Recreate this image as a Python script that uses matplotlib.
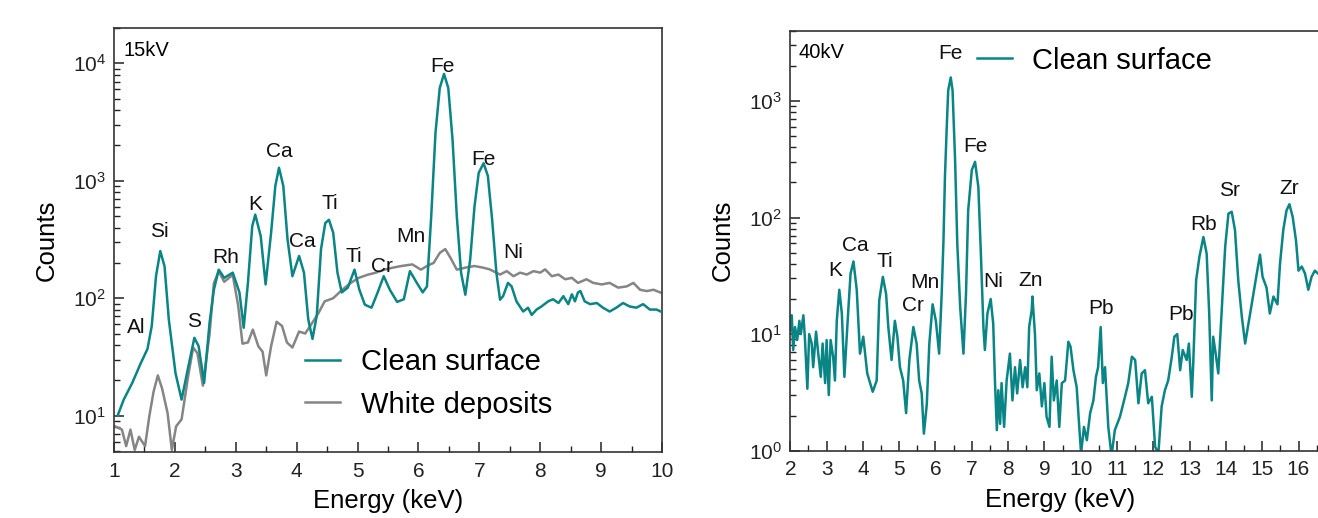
import matplotlib
matplotlib.use("Agg")
import matplotlib.pyplot as plt
from matplotlib.ticker import LogLocator, MultipleLocator, NullFormatter

plt.rcParams['font.family'] = ['Liberation Sans', 'DejaVu Sans']
plt.rcParams['mathtext.fontset'] = 'custom'
plt.rcParams['mathtext.rm'] = 'Liberation Sans'

TEAL = '#0a8585'
GRAY = '#858585'

# ---------------- 15 kV data ----------------
clean15_e = [1.06, 1.16, 1.30, 1.44, 1.55, 1.62, 1.69, 1.76, 1.83, 1.90, 2.01, 2.11, 2.22, 2.32,
             2.39, 2.48, 2.57, 2.64, 2.72, 2.81, 2.95, 3.06, 3.13, 3.20, 3.27, 3.32, 3.41, 3.49,
             3.58, 3.65, 3.71, 3.78, 3.85, 3.93, 4.04, 4.12, 4.19, 4.26, 4.33, 4.40, 4.47, 4.53,
             4.60, 4.67, 4.74, 4.84, 4.95, 5.03, 5.12, 5.23, 5.33, 5.43, 5.53, 5.65, 5.76, 5.86,
             5.97, 6.07, 6.14, 6.21, 6.28, 6.35, 6.42, 6.49, 6.56, 6.63, 6.70, 6.77, 6.85, 6.92,
             6.99, 7.07, 7.14, 7.21, 7.28, 7.34, 7.39, 7.47, 7.53, 7.61, 7.72, 7.80, 7.86, 7.94,
             8.02, 8.13, 8.21, 8.30, 8.38, 8.46, 8.52, 8.57, 8.62, 8.66, 8.73, 8.82, 8.93, 9.03,
             9.14, 9.25, 9.36, 9.47, 9.58, 9.69, 9.80, 9.91, 9.98]
clean15_c = [10, 13.7, 19, 28, 37, 58, 154, 252, 187, 66, 23, 13.7, 26, 46,
             39, 19, 62, 118, 175, 149, 165, 112, 56, 136, 410, 515, 337, 131,
             361, 907, 1290, 907, 317, 154, 229, 165, 66, 45, 71, 262, 437, 465,
             361, 165, 112, 123, 175, 118, 88, 83, 112, 154, 118, 93, 98, 170,
             136, 112, 126, 500, 2570, 6170, 8130, 6170, 2240, 500, 165, 107, 214, 600,
             1170, 1410, 1100, 468, 165, 97, 104, 135, 126, 94, 77, 83, 72, 80,
             85, 94, 98, 91, 104, 89, 108, 94, 112, 115, 94, 89, 91, 83,
             77, 83, 91, 85, 83, 89, 80, 80, 77]

white15_e = [1.02, 1.13, 1.20, 1.27, 1.34, 1.41, 1.51, 1.58, 1.65, 1.72, 1.79, 1.88, 1.95, 2.02,
             2.11, 2.22, 2.30, 2.37, 2.46, 2.57, 2.64, 2.72, 2.81, 2.95, 3.04, 3.11, 3.20, 3.28,
             3.37, 3.44, 3.50, 3.58, 3.67, 3.76, 3.84, 3.93, 4.04, 4.14, 4.25, 4.36, 4.46, 4.60,
             4.74, 4.88, 5.02, 5.16, 5.30, 5.44, 5.58, 5.72, 5.90, 6.04, 6.14, 6.25, 6.35, 6.44,
             6.53, 6.63, 6.77, 6.92, 7.06, 7.17, 7.34, 7.45, 7.56, 7.67, 7.78, 7.89, 8.00, 8.08,
             8.19, 8.30, 8.41, 8.52, 8.62, 8.76, 8.87, 9.01, 9.14, 9.28, 9.42, 9.53, 9.64, 9.75,
             9.86, 9.97]
white15_c = [8.1, 7.6, 5.5, 7.6, 5.1, 6.6, 5.5, 9.9, 16, 22, 17, 10.5, 5.1, 8.1,
             9.3, 22, 38, 34, 18, 50, 134, 170, 138, 158, 86, 41, 42, 54,
             39, 35, 22, 39, 63, 58, 42, 38, 52, 50, 61, 75, 94, 100,
             117, 134, 149, 158, 165, 175, 182, 188, 194, 175, 188, 200, 243, 262,
             219, 175, 182, 188, 182, 176, 159, 170, 154, 165, 159, 170, 165, 176,
             154, 159, 145, 149, 135, 145, 135, 131, 135, 123, 126, 135, 118, 115,
             118, 112]

# ---------------- 40 kV data ----------------
clean40_e = [2.00, 2.04, 2.08, 2.13, 2.19, 2.25, 2.29, 2.36, 2.40, 2.47, 2.52, 2.59, 2.63, 2.71,
             2.77, 2.84, 2.89, 2.96, 3.00, 3.06, 3.11, 3.18, 3.23, 3.28,
             3.35, 3.42, 3.49, 3.58, 3.66, 3.74, 3.83, 3.92, 4.01, 4.12, 4.27, 4.38,
             4.45, 4.55, 4.64, 4.70, 4.79, 4.88, 4.95, 5.02, 5.11, 5.19, 5.28, 5.39, 5.48, 5.55,
             5.62, 5.68, 5.76, 5.83, 5.92, 6.01, 6.10, 6.17, 6.22, 6.26, 6.31, 6.35, 6.42, 6.47,
             6.54, 6.60, 6.68, 6.77, 6.84, 6.90, 7.00, 7.09, 7.18, 7.25, 7.32, 7.36, 7.43, 7.52,
             7.59, 7.64, 7.69, 7.73, 7.78, 7.82, 7.89, 7.96, 8.05, 8.12, 8.19, 8.25, 8.33, 8.40,
             8.47, 8.53, 8.58, 8.65, 8.67, 8.74, 8.79, 8.86, 8.93, 9.00, 9.06, 9.14, 9.20, 9.26,
             9.34, 9.41, 9.48, 9.57, 9.66, 9.72, 9.80, 9.89, 9.96, 10.01, 10.09, 10.17, 10.26,
             10.35, 10.42, 10.48, 10.55, 10.61, 10.67, 10.76, 10.85, 10.94,
             11.08, 11.22, 11.31, 11.41, 11.50, 11.59, 11.68, 11.77, 11.86, 11.96, 12.05, 12.14,
             12.23, 12.32, 12.41, 12.51, 12.58, 12.66, 12.74, 12.81, 12.92, 12.98, 13.06, 13.10,
             13.18, 13.27, 13.38, 13.47, 13.54, 13.61, 13.65, 13.73, 13.79, 13.88, 13.98, 14.07,
             14.16, 14.25, 14.34, 14.44, 14.53, 14.62, 14.71, 14.85, 14.94, 15.01, 15.12, 15.21,
             15.31, 15.42, 15.49, 15.58, 15.67, 15.75, 15.84, 15.93, 16.00, 16.09, 16.18, 16.27,
             16.36, 16.45, 16.54]
clean40_c = [10.8, 14.5, 7.3, 11.5, 8.9, 13, 10, 14.5, 9.5, 3.4, 10, 8.3, 5.2, 10.5,
             6.8, 4.3, 8.3, 3.8, 8.9, 3.0, 8.9, 6.4, 4.0, 13,
             24, 15, 4.3, 13, 33, 42, 24, 6.8, 9.5, 4.6, 3.2, 4.0,
             19.5, 31, 22, 11.5, 6, 13, 9.5, 5.2, 4.0, 2.1, 6, 11.5, 8.3, 4.0,
             3.1, 1.4, 2.5, 8.3, 18, 13, 6.8, 22, 64, 222, 600, 1230, 1590, 1230,
             310, 60, 17, 6.8, 22, 115, 255, 300, 183, 49, 11.5, 7.3, 15, 20,
             12.3, 3.8, 1.5, 3.3, 1.7, 3.8, 1.6, 4.0, 6.8, 2.7, 5.2, 3.1, 6, 3.5,
             5.2, 3.5, 11.5, 16, 21, 10, 3.3, 4.6, 2.4, 3.8, 1.95, 1.6, 6.4, 2.7,
             4.0, 1.6, 3.8, 4.0, 8.6, 7.8, 4.9, 3.5, 1.6, 0.95, 1.6, 1.23, 2.1,
             2.7, 4.3, 5.2, 11.5, 3.8, 5.2, 1.6, 0.9, 1.5,
             1.95, 2.9, 3.8, 6.4, 6, 2.55, 4.6, 4.9, 2.55, 2.9, 1.08, 0.95,
             2.4, 3.3, 4.0, 6.4, 9.5, 10, 4.9, 7.3, 6, 8.3, 2.9, 5.6,
             29, 46, 68, 49, 15, 2.7, 9.5, 6.4, 4.6, 15, 56, 108,
             112, 78, 29, 14, 8.3, 12.3, 18, 33, 48, 31, 25, 15,
             21, 18, 40, 78, 115, 130, 101, 64, 35, 38, 33, 24,
             31, 35, 33]

# ---------------- peak labels ----------------
labels15 = ['Al', 'Si', 'S', 'Rh', 'K', 'Ca', 'Ca', 'Ti', 'Ti', 'Cr', 'Mn', 'Fe', 'Fe', 'Ni']
labels15_x = [1.36, 1.74, 2.31, 2.84, 3.32, 3.71, 4.10, 4.55, 4.94, 5.40, 5.88, 6.40, 7.07, 7.55]
labels15_y = [56, 371, 63, 222, 630, 1780, 304, 641, 227, 186, 336, 9440, 1515, 245]

labels40 = ['K', 'Ca', 'Ti', 'Cr', 'Mn', 'Fe', 'Fe', 'Ni', 'Zn', 'Pb', 'Pb', 'Rb', 'Sr', 'Zr']
labels40_x = [3.24, 3.80, 4.60, 5.37, 5.72, 6.41, 7.11, 7.60, 8.63, 10.56, 12.76, 13.38, 14.10, 15.75]
labels40_y = [35.3, 58, 41.7, 17.7, 27.5, 2540, 403, 28, 29, 16.6, 14.6, 87.7, 169, 177]

W, H = 1318, 518
fig = plt.figure(figsize=(W / 100, H / 100), dpi=100)

def px_axes(x0, x1, ytop, ybot):
    return fig.add_axes([x0 / W, 1 - ybot / H, (x1 - x0) / W, (ybot - ytop) / H])

ax1 = px_axes(114, 662, 28, 452)
ax2 = px_axes(790.3, 1330, 30.7, 450.7)

def style(ax):
    ax.set_yscale('log')
    ax.yaxis.set_major_locator(LogLocator(base=10, numticks=10))
    ax.yaxis.set_minor_locator(LogLocator(base=10, subs=range(2, 10), numticks=20))
    ax.yaxis.set_minor_formatter(NullFormatter())
    ax.xaxis.set_major_locator(MultipleLocator(1))
    ax.xaxis.set_minor_locator(MultipleLocator(0.5))
    ax.tick_params(which='both', direction='in', colors='#222222', labelsize=15,
                   top=False, right=False)
    ax.tick_params(which='major', length=7, width=1.1)
    ax.tick_params(which='minor', length=4, width=1.0)
    ax.tick_params(axis='y', pad=6)
    ax.tick_params(axis='x', pad=7)
    for s in ax.spines.values():
        s.set_linewidth(1.2)
        s.set_color('#333333')
    ax.set_xlabel('Energy (keV)', fontsize=18.5, labelpad=6)
    ax.set_ylabel('Counts', fontsize=18.5, labelpad=10)

# ---- left panel ----
style(ax1)
ax1.plot(clean15_e, clean15_c, color=TEAL, lw=1.8, label='Clean surface', zorder=3)
ax1.plot(white15_e, white15_c, color=GRAY, lw=1.8, label='White deposits', zorder=2)
ax1.set_xlim(1, 10)
ax1.set_ylim(4.9, 2.0e4)
for t, x, y in zip(labels15, labels15_x, labels15_y):
    ax1.text(x, y, t, fontsize=15, ha='center', va='center', color='#111111')
ax1.text(0.018, 0.948, '15kV', transform=ax1.transAxes, fontsize=14.5, ha='left', va='center')
ax1.legend(loc='upper left', bbox_to_anchor=(0.349, 0.245), frameon=False, fontsize=21,
           handlelength=1.2, handletextpad=0.7, labelspacing=0.5, borderpad=0, borderaxespad=0)

# ---- right panel ----
style(ax2)
ax2.spines['right'].set_visible(False)
ax2.plot(clean40_e, clean40_c, color=TEAL, lw=1.8, label='Clean surface')
ax2.set_xlim(2, 2 + (1330 - 790.3) / 36.3)
ax2.set_ylim(1, 4000)
for t, x, y in zip(labels40, labels40_x, labels40_y):
    ax2.text(x, y, t, fontsize=15, ha='center', va='center', color='#111111')
ax2.text(0.015, 0.949, '40kV', transform=ax2.transAxes, fontsize=14.5, ha='left', va='center')
ax2.legend(loc='upper left', bbox_to_anchor=(0.346, 0.962), frameon=False, fontsize=21,
           handlelength=1.2, handletextpad=0.7, borderpad=0, borderaxespad=0)

fig.savefig('out.png', dpi=100)
